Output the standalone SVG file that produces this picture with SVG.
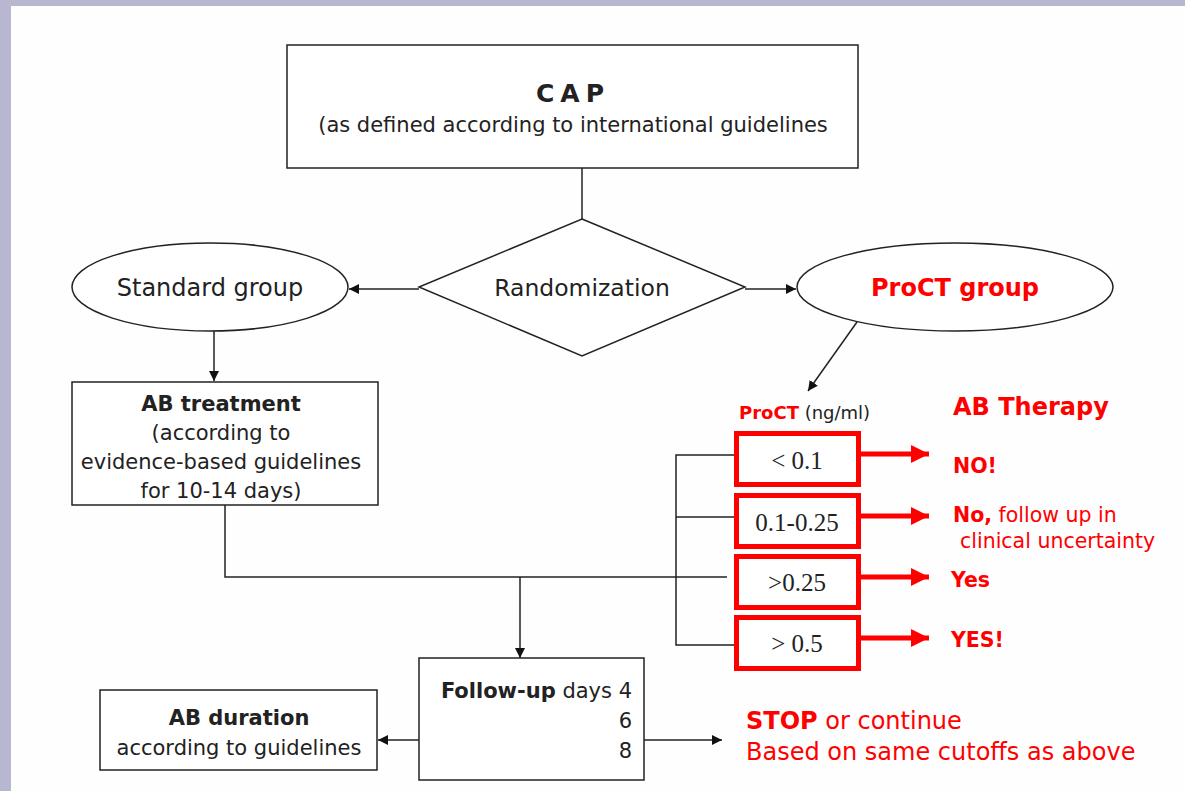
<svg xmlns="http://www.w3.org/2000/svg" width="1185" height="791" viewBox="0 0 1185 791">
<style>
  .bx{fill:#fff;stroke:#222;stroke-width:1.5}
  .rb{fill:#fff;stroke:#ff0000;stroke-width:5}
  .ln{fill:none;stroke:#222;stroke-width:1.5}
  .t{font-family:"DejaVu Sans",Verdana,sans-serif;fill:#222}
  .b{font-weight:bold}
  .r{fill:#ff0000}
  .m{text-anchor:middle}
  .e{text-anchor:end}
  .s{font-family:"Liberation Serif","Times New Roman",serif;fill:#222;font-size:25px;text-anchor:middle}
</style>
<defs>
  <marker id="ah" viewBox="0 0 10 10" refX="10" refY="5" markerWidth="10" markerHeight="10" markerUnits="userSpaceOnUse" orient="auto">
    <path d="M0,0 L10,5 L0,10 Z" fill="#111"/>
  </marker>
  <marker id="rah" viewBox="0 0 18 18" refX="18" refY="9" markerWidth="18" markerHeight="18" markerUnits="userSpaceOnUse" orient="auto">
    <path d="M0,0 L18,9 L0,18 Z" fill="#ff0000"/>
  </marker>
</defs>
<rect x="0" y="0" width="1185" height="791" fill="#fefefe"/>
<rect x="0" y="0" width="1185" height="6" fill="#b7b7d1"/>
<rect x="0" y="0" width="11" height="791" fill="#b7b7d1"/>

<g id="connectors">
  <line class="ln" x1="582" y1="168" x2="582" y2="219"/>
  <line class="ln" x1="419" y1="289" x2="349" y2="289" marker-end="url(#ah)"/>
  <line class="ln" x1="745" y1="289" x2="796" y2="289" marker-end="url(#ah)"/>
  <line class="ln" x1="214" y1="331" x2="214" y2="381" marker-end="url(#ah)"/>
  <line class="ln" x1="857" y1="322" x2="808" y2="391" marker-end="url(#ah)"/>
  <polyline class="ln" points="225,505 225,577 727,577"/>
  <line class="ln" x1="520" y1="577" x2="520" y2="658" marker-end="url(#ah)"/>
  <polyline class="ln" points="736,455 676,455 676,645 736,645"/>
  <line class="ln" x1="676" y1="517" x2="736" y2="517"/>
  <line class="ln" x1="419" y1="740" x2="378" y2="740" marker-end="url(#ah)"/>
  <line class="ln" x1="644" y1="740" x2="722" y2="740" marker-end="url(#ah)"/>
  <g stroke="#ff0000" stroke-width="5">
    <line x1="861" y1="454" x2="929" y2="454" marker-end="url(#rah)"/>
    <line x1="861" y1="516" x2="929" y2="516" marker-end="url(#rah)"/>
    <line x1="861" y1="577" x2="929" y2="577" marker-end="url(#rah)"/>
    <line x1="861" y1="638" x2="929" y2="638" marker-end="url(#rah)"/>
  </g>
</g>

<g id="cap">
  <rect class="bx" x="287" y="45" width="571" height="123"/>
  <text class="t b m" x="573" y="102" font-size="25" letter-spacing="6">CAP</text>
  <text class="t m" x="573" y="132" font-size="21">(as defined according to international guidelines</text>
</g>

<g id="randomization">
  <polygon class="bx" points="582,219 745,287 582,356 419,287"/>
  <text class="t m" x="582" y="296" font-size="23.5">Randomization</text>
</g>

<g id="standard">
  <ellipse class="bx" cx="210" cy="287" rx="138" ry="44"/>
  <text class="t m" x="210" y="296" font-size="24">Standard group</text>
</g>

<g id="proct">
  <ellipse class="bx" cx="955" cy="287" rx="158" ry="44"/>
  <text class="t b r m" x="955" y="296" font-size="24">ProCT group</text>
</g>

<g id="ab-treatment">
  <rect class="bx" x="72" y="382" width="306" height="123"/>
  <text class="t b m" x="221" y="411" font-size="21">AB treatment</text>
  <text class="t m" x="221" y="440" font-size="21">(according to</text>
  <text class="t m" x="221" y="469" font-size="21">evidence-based guidelines</text>
  <text class="t m" x="221" y="498" font-size="21">for 10-14 days)</text>
</g>

<g id="proct-header">
  <text class="t" x="739" y="419" font-size="18"><tspan class="b r">ProCT</tspan> (ng/ml)</text>
  <text class="t b r" x="953" y="415" font-size="24">AB Therapy</text>
</g>

<g id="lt01">
  <rect class="rb" x="736.5" y="433.5" width="122" height="51"/>
  <text class="s" x="797" y="469">&lt; 0.1</text>
</g>
<g id="r01-025">
  <rect class="rb" x="736.5" y="495.5" width="122" height="51"/>
  <text class="s" x="797" y="531">0.1-0.25</text>
</g>
<g id="gt025">
  <rect class="rb" x="736.5" y="556.5" width="122" height="51"/>
  <text class="s" x="797" y="591">&gt;0.25</text>
</g>
<g id="gt05">
  <rect class="rb" x="736.5" y="617.5" width="122" height="51"/>
  <text class="s" x="797" y="652">&gt; 0.5</text>
</g>

<g id="therapy-labels">
  <text class="t b r" x="953" y="473" font-size="20.5">NO!</text>
  <text class="t r" x="953" y="522" font-size="20.5"><tspan class="b">No,</tspan> follow up in</text>
  <text class="t r" x="960" y="548" font-size="20.5">clinical uncertainty</text>
  <text class="t b r" x="951" y="587" font-size="20.5">Yes</text>
  <text class="t b r" x="951" y="647" font-size="20.5">YES!</text>
</g>

<g id="follow-up">
  <rect class="bx" x="419" y="658" width="225" height="122"/>
  <text class="t e" x="632" y="698" font-size="21"><tspan class="b">Follow-up</tspan> days 4</text>
  <text class="t e" x="632" y="728" font-size="21">6</text>
  <text class="t e" x="632" y="758" font-size="21">8</text>
</g>

<g id="ab-duration">
  <rect class="bx" x="100" y="690" width="277" height="80"/>
  <text class="t b m" x="239" y="725" font-size="21">AB duration</text>
  <text class="t m" x="239" y="755" font-size="21">according to guidelines</text>
</g>

<g id="stop">
  <text class="t r" x="746" y="729" font-size="24"><tspan class="b">STOP</tspan> or continue</text>
  <text class="t r" x="746" y="760" font-size="24">Based on same cutoffs as above</text>
</g>
</svg>
